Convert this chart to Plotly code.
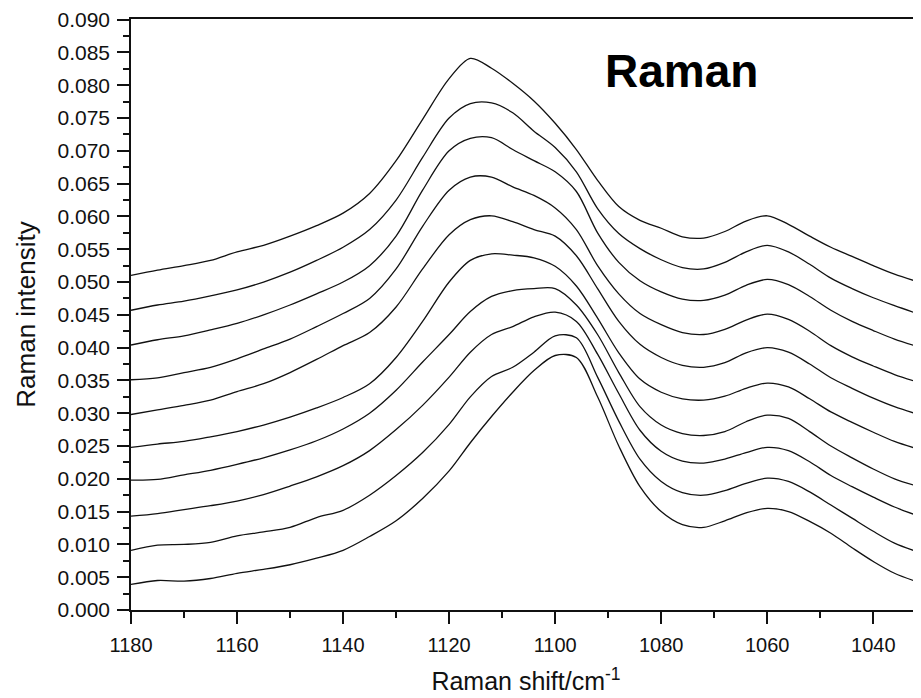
import plotly.graph_objects as go

shift = [1180, 1175, 1170, 1165, 1160, 1155, 1150, 1145, 1140, 1135, 1130, 1125, 1120, 1116, 1112,
         1108, 1104, 1100, 1096, 1092, 1088, 1084, 1080, 1076, 1072, 1068, 1064, 1060, 1056, 1052,
         1048, 1044, 1040, 1036, 1031]

curve_1 = [.0510, .0518, .0525, .0533, .0546, .0556, .0570, .0586, .0605, .0635, .0685, .0748, .0810, .0841, .0826,
           .0803, .0776, .0742, .0702, .0655, .0615, .0594, .0582, .0569, .0567, .0577, .0593, .0601, .0588, .0570,
           .0553, .0539, .0525, .0512, .0499]
curve_2 = [.0457, .0465, .0471, .0479, .0488, .0500, .0515, .0533, .0553, .0580, .0625, .0690, .0750, .0772, .0773,
           .0758, .0730, .0705, .0668, .0612, .0574, .0551, .0534, .0522, .0520, .0530, .0546, .0556, .0546, .0527,
           .0506, .0490, .0476, .0464, .0450]
curve_3 = [.0404, .0412, .0418, .0427, .0437, .0450, .0465, .0482, .0500, .0525, .0570, .0640, .0700, .0719, .0720,
           .0702, .0685, .0668, .0638, .0575, .0530, .0502, .0485, .0474, .0472, .0480, .0495, .0504, .0496, .0478,
           .0457, .0440, .0426, .0413, .0400]
curve_4 = [.0351, .0354, .0362, .0370, .0383, .0398, .0413, .0432, .0452, .0475, .0520, .0585, .0640, .0660, .0660,
           .0645, .0632, .0613, .0580, .0525, .0482, .0452, .0435, .0423, .0420, .0428, .0442, .0451, .0443, .0425,
           .0403, .0386, .0372, .0359, .0346]
curve_5 = [.0298, .0305, .0312, .0320, .0333, .0345, .0362, .0382, .0403, .0423, .0462, .0520, .0572, .0595, .0601,
           .0592, .0580, .0570, .0540, .0490, .0440, .0405, .0385, .0373, .0370, .0377, .0392, .0400, .0393, .0375,
           .0354, .0338, .0323, .0310, .0297]
curve_6 = [.0248, .0253, .0257, .0264, .0272, .0282, .0294, .0308, .0324, .0345, .0385, .0440, .0500, .0533, .0543,
           .0541, .0537, .0524, .0494, .0445, .0392, .0352, .0332, .0322, .0320, .0326, .0338, .0346, .0340, .0322,
           .0302, .0286, .0271, .0257, .0244]
curve_7 = [.0198, .0199, .0206, .0213, .0222, .0232, .0244, .0258, .0276, .0300, .0335, .0378, .0420, .0455, .0478,
           .0487, .0490, .0490, .0465, .0420, .0362, .0310, .0282, .0269, .0266, .0272, .0287, .0297, .0292, .0272,
           .0250, .0232, .0215, .0200, .0187]
curve_8 = [.0143, .0147, .0153, .0159, .0166, .0176, .0189, .0203, .0220, .0243, .0275, .0312, .0355, .0393, .0420,
           .0432, .0447, .0454, .0440, .0390, .0330, .0274, .0242, .0227, .0224, .0230, .0240, .0248, .0243, .0226,
           .0205, .0188, .0172, .0157, .0142]
curve_9 = [.0091, .0099, .0100, .0103, .0113, .0119, .0126, .0141, .0152, .0175, .0205, .0240, .0283, .0325, .0356,
           .0370, .0393, .0418, .0415, .0355, .0288, .0230, .0196, .0179, .0175, .0182, .0193, .0201, .0196, .0180,
           .0160, .0140, .0120, .0102, .0087]
curve_10 = [.0039, .0045, .0044, .0048, .0056, .0062, .0069, .0079, .0091, .0112, .0136, .0170, .0212, .0255, .0295,
            .0332, .0365, .0388, .0385, .0325, .0250, .0188, .0150, .0130, .0126, .0136, .0148, .0155, .0150, .0135,
            .0117, .0095, .0074, .0056, .0041]

curves = [curve_1, curve_2, curve_3, curve_4, curve_5, curve_6, curve_7, curve_8, curve_9, curve_10]

x_ticks = [1180, 1160, 1140, 1120, 1100, 1080, 1060, 1040]
x_minor = [1170, 1150, 1130, 1110, 1090, 1070, 1050]
y_ticks = [0.000, 0.005, 0.010, 0.015, 0.020, 0.025, 0.030, 0.035, 0.040, 0.045,
           0.050, 0.055, 0.060, 0.065, 0.070, 0.075, 0.080, 0.085, 0.090]
y_tick_text = ["0.000", "0.005", "0.010", "0.015", "0.020", "0.025", "0.030", "0.035", "0.040", "0.045",
               "0.050", "0.055", "0.060", "0.065", "0.070", "0.075", "0.080", "0.085", "0.090"]

ink = "#111111"
fig = go.Figure()
for c in curves:
    fig.add_trace(go.Scatter(x=shift, y=c, mode="lines",
                             line=dict(color=ink, width=1.3, shape="spline", smoothing=0.9),
                             showlegend=False, hoverinfo="skip"))

fig.add_annotation(x=1091.0, y=0.0822, xref="x", yref="y", text="<b>Raman</b>",
                   showarrow=False, xanchor="left", yanchor="middle",
                   font=dict(family="Liberation Sans, Arial", size=46, color="#000"))

# the page body has an 8px default margin; the figure is sized to end at the window edge
fig.update_layout(
    width=913, height=690,
    margin=dict(l=123, r=0, t=11, b=88),
    plot_bgcolor="white", paper_bgcolor="white",
    font=dict(family="Liberation Sans, Arial", color=ink),
)
fig.update_xaxes(
    range=[1180, 1031], tickmode="array", tickvals=x_ticks,
    ticks="outside", ticklen=12, tickwidth=1.5, tickcolor=ink,
    showline=True, linecolor=ink, linewidth=1.5, mirror=True,
    showgrid=False, zeroline=False,
    tickfont=dict(size=20), ticklabelstandoff=4,
    minor=dict(tickmode="array", tickvals=x_minor, ticks="outside", ticklen=6, tickwidth=1.5, tickcolor=ink),
    title=dict(text="Raman shift/cm<sup>-1</sup>", font=dict(size=25), standoff=18),
)
fig.update_yaxes(
    range=[0, 0.0901], tickmode="array", tickvals=y_ticks, ticktext=y_tick_text,
    ticks="outside", ticklen=12, tickwidth=1.5, tickcolor=ink,
    showline=True, linecolor=ink, linewidth=1.5, mirror=False,
    showgrid=False, zeroline=False,
    tickfont=dict(size=21), ticklabelstandoff=3, ticklabeloverflow="allow",
    minor=dict(dtick=0.0025, tick0=0, ticks="outside", ticklen=6, tickwidth=1.5, tickcolor=ink),
    title=dict(text="Raman intensity", font=dict(size=26), standoff=14),
)

fig.write_html("out.html")
